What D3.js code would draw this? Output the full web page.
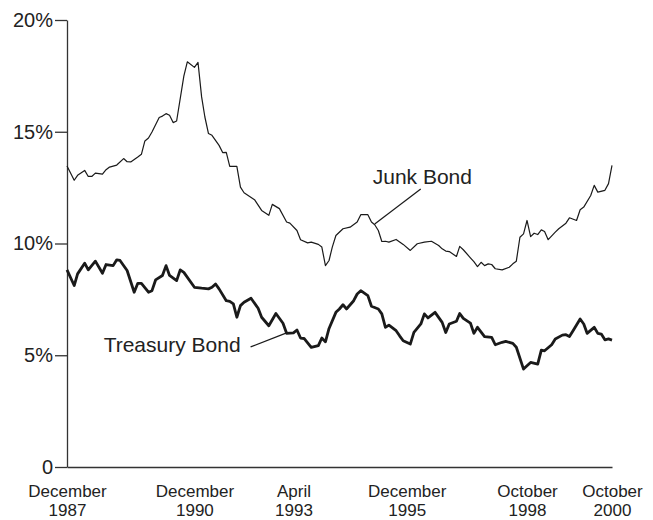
<!DOCTYPE html>
<html>
<head>
<meta charset="utf-8">
<script src="https://cdn.jsdelivr.net/npm/d3@7"></script>
<style>
	body { margin: 0; background: #fff; }
	svg { display: block; font-family: "Liberation Sans", Arial, sans-serif; }
	.axis path, .axis line { stroke: #333; stroke-width: 1.3; }
	.axis text { fill: #222; }
</style>
</head>
<body>
<div id="chart"></div>
<script>
// values, monthly yields in percent
const junkDates = ['1987-12','1988-02','1988-03','1988-05','1988-06','1988-07','1988-08','1988-10','1988-11','1988-12',
	'1989-02','1989-04','1989-05','1989-06','1989-08','1989-09','1989-10','1989-11','1989-12',
	'1990-02','1990-03','1990-04','1990-05','1990-06','1990-07','1990-09','1990-10','1990-12',
	'1991-01','1991-02','1991-03','1991-04','1991-05','1991-07','1991-08','1991-09','1991-10','1991-12',
	'1992-01','1992-02','1992-05','1992-07','1992-09','1992-10','1992-12',
	'1993-02','1993-03','1993-05','1993-06','1993-08','1993-09','1993-11','1993-12',
	'1994-01','1994-02','1994-03','1994-04','1994-06','1994-08','1994-10','1994-11',
	'1995-01','1995-02','1995-03','1995-04','1995-05','1995-06','1995-07','1995-09','1995-11',
	'1996-01','1996-03','1996-05','1996-07','1996-09','1996-10','1996-11','1996-12',
	'1997-02','1997-03','1997-04','1997-06','1997-07','1997-08','1997-09','1997-10','1997-11','1997-12',
	'1998-01','1998-03','1998-05','1998-06','1998-07','1998-08','1998-09','1998-10','1998-11','1998-12',
	'1999-01','1999-02','1999-03','1999-04','1999-06','1999-07','1999-09','1999-10','1999-12',
	'2000-01','2000-02','2000-04','2000-05','2000-06','2000-08','2000-09','2000-10']
const junkRates = [13.47,12.83,13.05,13.27,13.0,13.0,13.15,13.1,13.3,13.42,
	13.51,13.8,13.66,13.65,13.87,13.99,14.59,14.72,14.99,
	15.64,15.70,15.81,15.74,15.41,15.48,17.49,18.13,17.88,
	18.10,16.56,15.66,14.92,14.84,14.39,14.07,14.08,13.45,13.45,
	12.52,12.27,11.96,11.48,11.26,11.75,11.56,
	10.96,10.91,10.58,10.17,10.03,10.06,9.96,9.84,
	9.01,9.24,9.84,10.36,10.66,10.73,10.96,11.29,
	11.29,10.96,10.84,10.58,10.09,10.1,10.06,10.18,9.96,
	9.69,9.99,10.06,10.1,9.91,9.76,9.66,9.64,
	9.42,9.87,9.72,9.36,9.19,8.97,9.16,9.01,9.09,9.06,
	8.87,8.82,8.94,9.09,9.21,10.28,10.43,11.03,10.31,10.46,
	10.4,10.61,10.54,10.17,10.51,10.66,10.91,11.15,11.03,
	11.51,11.63,12.15,12.6,12.3,12.38,12.68,13.5]

const treasuryDates = ['1987-12','1988-02','1988-03','1988-05','1988-06','1988-08','1988-10','1988-11',
	'1989-01','1989-02','1989-03','1989-05','1989-07','1989-08','1989-09','1989-11','1989-12',
	'1990-01','1990-03','1990-04','1990-05','1990-07','1990-08','1990-09','1990-12',
	'1991-02','1991-04','1991-05','1991-06','1991-07','1991-09','1991-10','1991-11','1991-12',
	'1992-01','1992-02','1992-04','1992-06','1992-07','1992-09','1992-11',
	'1993-01','1993-02','1993-04','1993-05','1993-06','1993-07','1993-09','1993-11','1993-12',
	'1994-01','1994-02','1994-04','1994-05','1994-06','1994-07','1994-09','1994-10','1994-11',
	'1995-01','1995-02','1995-04','1995-05','1995-06','1995-07','1995-09','1995-10','1995-11',
	'1996-01','1996-02','1996-04','1996-05','1996-06','1996-08','1996-10','1996-11','1996-12',
	'1997-02','1997-03','1997-04','1997-06','1997-07','1997-08','1997-10','1997-12',
	'1998-01','1998-03','1998-04','1998-06','1998-07','1998-09','1998-10','1998-11',
	'1999-01','1999-02','1999-03','1999-05','1999-06','1999-08','1999-09','1999-10','1999-11',
	'2000-01','2000-02','2000-03','2000-05','2000-06','2000-07','2000-08','2000-09','2000-10']
const treasuryRates = [8.82,8.12,8.64,9.12,8.82,9.21,8.67,9.06,
	9.01,9.27,9.24,8.79,7.82,8.22,8.22,7.82,7.89,
	8.37,8.57,9.01,8.57,8.34,8.82,8.71,8.04,
	8.0,7.97,8.04,8.19,7.97,7.44,7.41,7.3,6.7,
	7.22,7.37,7.55,7.1,6.7,6.32,6.87,
	6.43,5.98,6.0,6.13,5.77,5.75,5.35,5.43,5.77,
	5.6,6.2,6.92,7.07,7.26,7.07,7.44,7.74,7.89,
	7.67,7.19,7.07,6.85,6.25,6.35,6.1,5.87,5.65,
	5.5,6.02,6.4,6.85,6.67,6.92,6.47,6.02,6.4,
	6.52,6.87,6.65,6.44,5.98,6.25,5.83,5.8,
	5.47,5.58,5.62,5.53,5.36,4.38,4.53,4.68,
	4.6,5.23,5.2,5.47,5.73,5.9,5.92,5.84,6.1,
	6.62,6.4,5.98,6.25,5.98,5.95,5.69,5.73,5.68]

const xTickDates = ['1987-12','1990-12','1993-04','1995-12','1998-10','2000-10']
const xTickMonths = ['December','December','April','December','October','October']
const xTickYears = ['1987','1990','1993','1995','1998','2000']
const yTicks = [0, 5, 10, 15, 20]

function init() {
	const parse = d3.timeParse('%Y-%m')

	const width = 653, height = 520
	const margin = { top: 20, right: 41, bottom: 53, left: 67 }

	const junk = junkDates.map((d, i) => ({ date: parse(d), v: junkRates[i] }))
	const treasury = treasuryDates.map((d, i) => ({ date: parse(d), v: treasuryRates[i] }))

	let svg = d3.select('#chart')
	.append('svg')
	.attr('width', width)
	.attr('height', height)

	let xScale = d3.scaleTime()
	.domain([parse('1987-12'), parse('2000-10')])
	.range([margin.left, width - margin.right])

	let yScale = d3.scaleLinear()
	.domain([0, 20])
	.range([height - margin.bottom, margin.top])

	// y axis
	svg.append('g')
	.attr('class', 'axis')
	.attr('transform', `translate(${margin.left},0)`)
	.call(d3.axisLeft(yScale)
		.tickValues(yTicks)
		.tickSize(12)
		.tickSizeOuter(0)
		.tickPadding(2)
		.tickFormat(d => d === 0 ? '0' : d + '%'))
	.selectAll('text')
	.style('font-size', '20px')

	// x axis, two-line labels
	let xAxis = svg.append('g')
	.attr('class', 'axis')
	.attr('transform', `translate(0,${height - margin.bottom})`)
	.call(d3.axisBottom(xScale)
		.tickValues(xTickDates.map(parse))
		.tickSize(0)
		.tickSizeOuter(0)
		.tickFormat(''))

	xAxis.selectAll('.tick').each(function(d, i) {
		let t = d3.select(this).select('text')
		.attr('y', 0)
		.attr('dy', null)
		.style('font-size', '17px')
		t.append('tspan').attr('x', 0).attr('y', 30).text(xTickMonths[i])
		t.append('tspan').attr('x', 0).attr('y', 49).text(xTickYears[i])
	})

	const line = d3.line()
	.x(d => xScale(d.date))
	.y(d => yScale(d.v))

	svg.append('path')
	.datum(junk)
	.attr('d', line)
	.attr('fill', 'none')
	.attr('stroke', '#1a1a1a')
	.attr('stroke-width', 1.2)
	.attr('stroke-linejoin', 'round')

	svg.append('path')
	.datum(treasury)
	.attr('d', line)
	.attr('fill', 'none')
	.attr('stroke', '#1a1a1a')
	.attr('stroke-width', 2.8)
	.attr('stroke-linejoin', 'round')

	// labels with leader lines, anchored on a point of each series
	const notes = [
		{ text: 'Junk Bond', date: '1995-03', v: 10.87, line: [46, -35], label: [-2, -40], anchor: 'start' },
		{ text: 'Treasury Bond', date: '1993-02', v: 6.0, line: [-36, 14], label: [-46, 19], anchor: 'end' }
	]

	notes.forEach(n => {
		let px = xScale(parse(n.date)), py = yScale(n.v)
		svg.append('line')
		.attr('x1', px).attr('y1', py)
		.attr('x2', px + n.line[0]).attr('y2', py + n.line[1])
		.attr('stroke', '#1a1a1a')
		.attr('stroke-width', 1.2)
		svg.append('text')
		.attr('x', px + n.label[0])
		.attr('y', py + n.label[1])
		.attr('text-anchor', n.anchor)
		.style('font-size', '21px')
		.attr('fill', '#222')
		.text(n.text)
	})
}

init()
</script>
</body>
</html>
